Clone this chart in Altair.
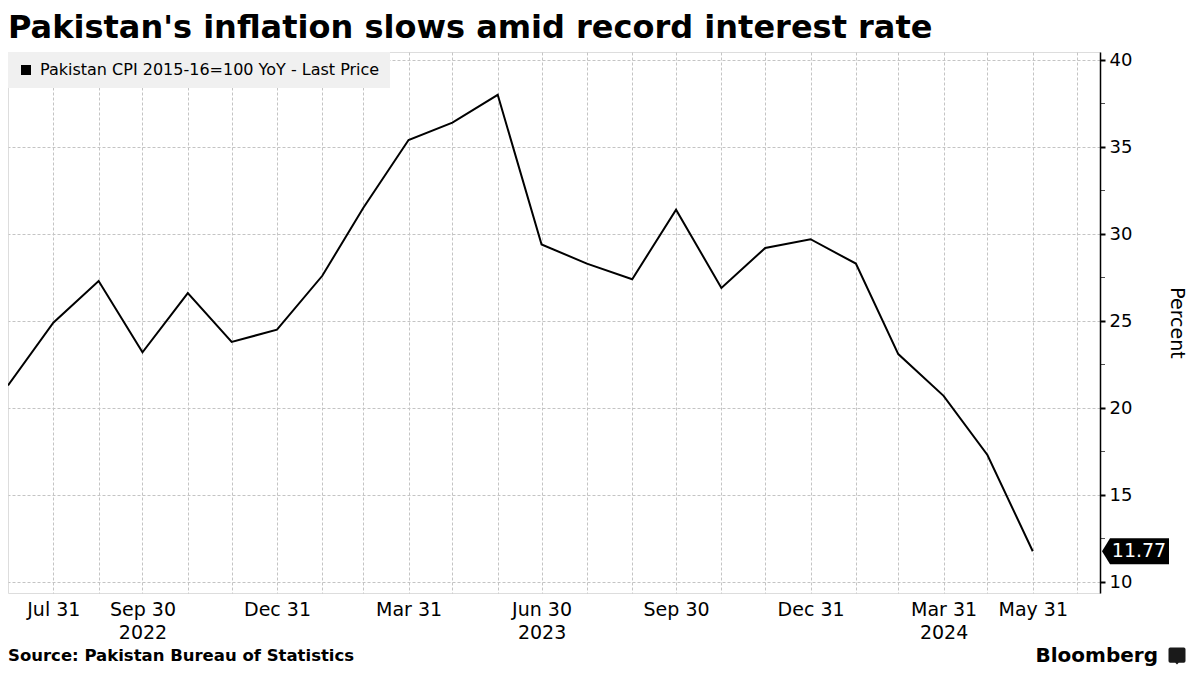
import json
import altair as alt
import pandas as pd

# ---------------- data ----------------
dates = [
    "2022-06-30", "2022-07-31", "2022-08-31", "2022-09-30", "2022-10-31", "2022-11-30",
    "2022-12-31", "2023-01-31", "2023-02-28", "2023-03-31", "2023-04-30", "2023-05-31",
    "2023-06-30", "2023-07-31", "2023-08-31", "2023-09-30", "2023-10-31", "2023-11-30",
    "2023-12-31", "2024-01-31", "2024-02-29", "2024-03-31", "2024-04-30", "2024-05-31",
]
cpi_yoy = [
    21.3, 24.9, 27.3, 23.2, 26.6, 23.8,
    24.5, 27.6, 31.5, 35.4, 36.4, 38.0,
    29.4, 28.3, 27.4, 31.4, 26.9, 29.2,
    29.7, 28.3, 23.1, 20.7, 17.3, 11.77,
]
series_name = "Pakistan CPI 2015-16=100 YoY - Last Price"

grid_dates = [
    "2022-07-31", "2022-08-31", "2022-09-30", "2022-10-31", "2022-11-30", "2022-12-31",
    "2023-01-31", "2023-02-28", "2023-03-31", "2023-04-30", "2023-05-31", "2023-06-30",
    "2023-07-31", "2023-08-31", "2023-09-30", "2023-10-31", "2023-11-30", "2023-12-31",
    "2024-01-31", "2024-02-29", "2024-03-31", "2024-04-30", "2024-05-31", "2024-06-30",
]
x_label_dates = ["2022-07-31", "2022-09-30", "2022-12-31", "2023-03-31", "2023-06-30",
                 "2023-09-30", "2023-12-31", "2024-03-31", "2024-05-31"]
x_label_texts = [["Jul 31"], ["Sep 30", "2022"], ["Dec 31"], ["Mar 31"], ["Jun 30", "2023"],
                 ["Sep 30"], ["Dec 31"], ["Mar 31", "2024"], ["May 31"]]
x_domain = ["2022-06-30", "2024-07-16"]

y_ticks = [10, 15, 20, 25, 30, 35, 40]
y_minor = [12.5, 17.5, 22.5, 27.5, 32.5, 37.5]
y_domain = [9.37, 40.46]

title_text = "Pakistan's inflation slows amid record interest rate"
source_text = "Source: Pakistan Bureau of Statistics"
brand_text = "Bloomberg"
last_label = "11.77"

FONT = "DejaVu Sans"
GRID = "#c4c4c4"
W, H = 1092, 541


def ms(d):
    return int(pd.Timestamp(d, tz="UTC").timestamp() * 1000)


label_expr = "''"
for d, lab in reversed(list(zip(x_label_dates, x_label_texts))):
    label_expr = f"time(datum.value) == {ms(d)} ? {json.dumps(lab)} : ({label_expr})"

df = pd.DataFrame({"date": dates, "value": cpi_yoy, "series": series_name})
last_df = pd.DataFrame({"value": [cpi_yoy[-1]], "label": [last_label]})
minor_df = pd.DataFrame({"value": y_minor})

x_enc = alt.X(
    "date:T",
    scale=alt.Scale(type="utc", domain=[ms(x_domain[0]), ms(x_domain[1])]),
    axis=alt.Axis(
        values=[ms(d) for d in grid_dates], labelExpr=label_expr, title=None,
        grid=True, gridColor=GRID, gridDash=[3, 2], gridWidth=1,
        ticks=False, domain=False, labelOverlap=False, labelFlush=False,
        labelPadding=7, labelFontSize=19, labelLineHeight=23, labelColor="#000",
        labelFont=FONT,
    ),
)
y_scale = alt.Scale(domain=y_domain, nice=False, zero=False)
y_axis = alt.Axis(
    orient="right", values=y_ticks, title="Percent",
    grid=True, gridColor=GRID, gridDash=[3, 2], gridWidth=1,
    domain=True, domainColor="#000", domainWidth=1.5,
    ticks=True, tickColor="#000", tickSize=5, tickWidth=2,
    labelPadding=4, labelFontSize=18, labelColor="#000", labelFont=FONT,
    titleAngle=90, titleX=76, titleY=H / 2, titleAlign="center", titleBaseline="middle",
    titleFontSize=19, titleFontWeight="normal", titleColor="#000", titleFont=FONT,
)
y_enc = alt.Y("value:Q", scale=y_scale, axis=y_axis)

line = alt.Chart(df).mark_line(strokeWidth=2, color="#000").encode(
    x=x_enc,
    y=y_enc,
    color=alt.Color(
        "series:N",
        scale=alt.Scale(range=["#000000"]),
        legend=alt.Legend(
            orient="top-left", offset=0, title=None, padding=10,
            fillColor="#f0f0f0", symbolType="square", symbolSize=100,
            symbolFillColor="#000", symbolStrokeColor="#000", symbolStrokeWidth=0,
            labelFont=FONT, labelFontSize=16, labelColor="#000", labelOffset=6,
            labelLimit=800,
        ),
    ),
)

minor_ticks = alt.Chart(minor_df).mark_tick(
    orient="horizontal", color="#000", thickness=1, size=5
).encode(x=alt.value(W + 2.5), y=y_enc)

tag_shape = "M -1 0 L -0.76 -0.388 L 1 -0.388 L 1 0.388 L -0.76 0.388 Z"
tag = alt.Chart(last_df).mark_point(
    shape=tag_shape, size=4489, filled=True, color="#000", opacity=1, strokeWidth=0
).encode(x=alt.value(W + 35.5), y=y_enc)
tag_text = alt.Chart(last_df).mark_text(
    color="#fff", font=FONT, fontSize=19, align="center", baseline="middle"
).encode(x=alt.value(W + 39), y=y_enc, text="label:N")

one = pd.DataFrame({"a": [0]})
title = alt.Chart(one).mark_text(
    text=title_text, font=FONT, fontSize=32, fontWeight="bold", color="#000",
    align="left", baseline="alphabetic",
).encode(x=alt.value(0), y=alt.value(-14))
source = alt.Chart(one).mark_text(
    text=source_text, font=FONT, fontSize=16.5, fontWeight="bold", color="#000",
    align="left", baseline="alphabetic",
).encode(x=alt.value(0), y=alt.value(609))
brand = alt.Chart(one).mark_text(
    text=brand_text, font=FONT, fontSize=20, fontWeight="bold", color="#000",
    align="right", baseline="alphabetic",
).encode(x=alt.value(1150), y=alt.value(610))
icon_shape = ("M -0.8 -1 L 0.8 -1 Q 1 -1 1 -0.8 L 1 0.6 Q 1 0.8 0.8 0.8 L 0.2 0.8 "
              "L 0 1 L -0.2 0.8 L -0.8 0.8 Q -1 0.8 -1 0.6 L -1 -0.8 Q -1 -1 -0.8 -1 Z")
icon = alt.Chart(one).mark_point(
    shape=icon_shape, size=289, filled=True, color="#1a1a1a", opacity=1, strokeWidth=0
).encode(x=alt.value(1169), y=alt.value(604))

chart = alt.layer(line, minor_ticks, tag, tag_text, title, source, brand, icon).properties(
    width=W, height=H,
    padding={"left": 0, "top": 44, "right": 88, "bottom": 74},
    autosize=alt.AutoSizeParams(type="none"),
).configure_view(stroke="transparent", strokeWidth=0).configure(font=FONT)

chart.save("out.html", embed_options={"renderer": "svg", "actions": False})
